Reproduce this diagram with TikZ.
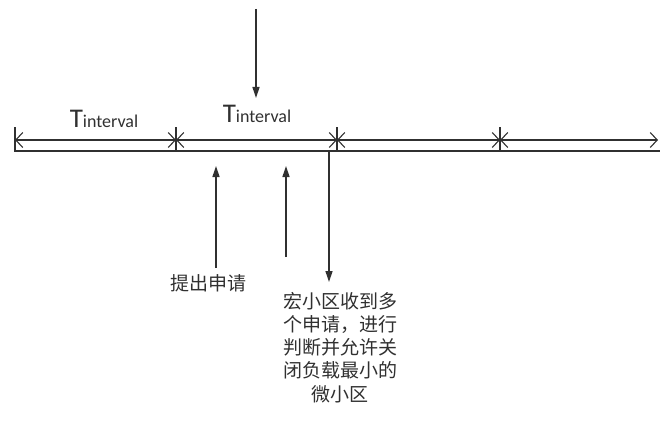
\documentclass[tikz,border=0pt]{standalone}
\usepackage{fontspec}
\setmainfont{Liberation Sans}
\newfontfamily\cjk{Noto Sans CJK SC}
\newfontfamily\calib{Carlito}
\usetikzlibrary{arrows.meta}
\definecolor{ink}{HTML}{303030}
\begin{document}
\begin{tikzpicture}[x=1pt,y=-1pt,
  line/.style={draw=ink, line width=1.1pt},
  dim/.style={draw=ink, line width=1.1pt, {Straight Barb[length=7pt,width=15pt,line width=1.1pt]}-{Straight Barb[length=7pt,width=15pt,line width=1.1pt]}},
  ptr/.style={draw=ink, line width=1.3pt, -{Triangle[length=11pt,width=7pt]}},
  tlabel/.style={text=ink, inner sep=0pt, anchor=base, font=\calib\fontsize{27}{27}\selectfont},
  cn/.style={text=ink, inner sep=0pt, font=\cjk\fontsize{19}{23.2}\selectfont, align=center}]
\useasboundingbox (0,0) rectangle (660,433);
% tick positions on the dimension line
\coordinate (t0) at (15,140);
\coordinate (t1) at (176,140);
\coordinate (t2) at (337,140);
\coordinate (t3) at (500,140);
\coordinate (t4) at (658,140);
% tick ends
\coordinate (u0) at (15,127);  \coordinate (d0) at (15,152);
\coordinate (u1) at (176,127); \coordinate (d1) at (176,152);
\coordinate (u2) at (337,127); \coordinate (d2) at (337,152);
\coordinate (u3) at (500,127); \coordinate (d3) at (500,152);
% base line
\coordinate (b0) at (15,151);
\coordinate (b4) at (660,151);
\draw[line] (b0) -- (b4);
\draw[line] (u0) -- (d0);
\draw[line] (u1) -- (d1);
\draw[line] (u2) -- (d2);
\draw[line] (u3) -- (d3);
% dimension arrows
\draw[dim] (t0) -- (t1);
\draw[dim] (t1) -- (t2);
\draw[dim] (t2) -- (t3);
\draw[dim] (t3) -- (t4);
% labels
\node[tlabel] (L1) at (104,127) {T{\fontsize{18}{18}\selectfont interval}};
\node[tlabel] (L2) at (257,122) {T{\fontsize{18}{18}\selectfont interval}};
% top arrow
\coordinate (s0) at (256,9);
\coordinate (e0) at (256,98);
\draw[ptr] (s0) -- (e0);
% up arrows
\coordinate (s1) at (216,268);
\coordinate (e1) at (216,166);
\draw[ptr] (s1) -- (e1);
\coordinate (s2) at (286,257);
\coordinate (e2) at (286,166);
\draw[ptr] (s2) -- (e2);
% down arrow
\coordinate (s3) at (329,152);
\coordinate (e3) at (329,282);
\draw[ptr] (s3) -- (e3);
% texts
\node[cn] (req) at (208,283) {提出申请};
\node[cn, anchor=north] (macro) at (340,292) {宏小区收到多\\个申请，进行\\判断并允许关\\闭负载最小的\\微小区};
\end{tikzpicture}
\end{document}
